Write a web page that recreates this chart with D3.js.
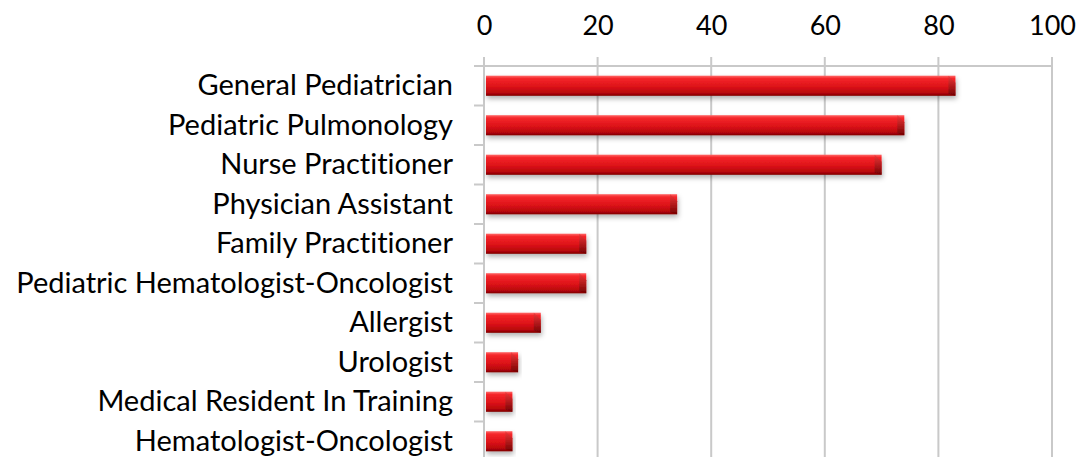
<!DOCTYPE html>
<html>
<head lang="en">
    <meta charset="UTF-8">
    <title></title>
    <style>
        body { margin: 0; background: #fff; }
        text { font-family: Lato, "Open Sans", sans-serif; fill: #000; font-variant-ligatures: none; }
    </style>
</head>
<body>
<div id="chart"></div>

<script src="https://d3js.org/d3.v7.min.js"></script>
<script>
    // データ
    var categories = [
        "General Pediatrician",
        "Pediatric Pulmonology",
        "Nurse Practitioner",
        "Physician Assistant",
        "Family Practitioner",
        "Pediatric Hematologist-Oncologist",
        "Allergist",
        "Urologist",
        "Medical Resident In Training",
        "Hematologist-Oncologist"
    ];
    var values = [83, 74, 70, 34, 18, 18, 10, 6, 5, 5];
    var xTicks = [0, 20, 40, 60, 80, 100];

    var W = 1079, H = 457;
    // window.top と被らないように plot* で
    var plotLeft = 484, plotRight = 1052, plotTop = 66, plotBottom = 461;

    var svg = d3.select("#chart").append("svg")
        .attr("width", W)
        .attr("height", H);

    var defs = svg.append("defs");

    // バーのグラデーション
    var grad = defs.append("linearGradient")
        .attr("id", "barGrad")
        .attr("x1", 0).attr("y1", 0).attr("x2", 0).attr("y2", 1);
    grad.append("stop").attr("offset", "0%").attr("stop-color", "#ff6a6a");
    grad.append("stop").attr("offset", "14%").attr("stop-color", "#f5262a");
    grad.append("stop").attr("offset", "55%").attr("stop-color", "#dc1218");
    grad.append("stop").attr("offset", "85%").attr("stop-color", "#b8070c");
    grad.append("stop").attr("offset", "100%").attr("stop-color", "#7e0000");

    var endGrad = defs.append("linearGradient")
        .attr("id", "endGrad")
        .attr("x1", 0).attr("y1", 0).attr("x2", 0).attr("y2", 1);
    endGrad.append("stop").attr("offset", "0%").attr("stop-color", "#e83a3a");
    endGrad.append("stop").attr("offset", "100%").attr("stop-color", "#6a0000");

    // 影
    var shadow = defs.append("filter")
        .attr("id", "shadow")
        .attr("x", "-10%").attr("y", "-30%")
        .attr("width", "120%").attr("height", "180%");
    shadow.append("feDropShadow")
        .attr("dx", 1).attr("dy", 3)
        .attr("stdDeviation", 2.5)
        .attr("flood-color", "#000")
        .attr("flood-opacity", 0.3);

    var x = d3.scaleLinear()
        .domain([0, 100])
        .range([plotLeft, plotRight]);

    var y = d3.scaleBand()
        .domain(categories)
        .range([plotTop, plotBottom])
        .paddingInner(0.49)
        .paddingOuter(0.245);

    // グリッド線
    svg.append("g")
        .selectAll("line")
        .data(xTicks)
        .enter().append("line")
        .attr("x1", function(d){ return x(d); })
        .attr("x2", function(d){ return x(d); })
        .attr("y1", plotTop - 9)
        .attr("y2", H)
        .attr("stroke", "#c9c9c9")
        .attr("stroke-width", 2);

    // 上の軸線
    svg.append("line")
        .attr("x1", plotLeft - 10).attr("x2", plotRight)
        .attr("y1", plotTop).attr("y2", plotTop)
        .attr("stroke", "#c9c9c9")
        .attr("stroke-width", 2);

    // カテゴリの区切り
    var step = y.step();
    svg.append("g")
        .selectAll("line")
        .data(categories)
        .enter().append("line")
        .attr("x1", plotLeft - 10).attr("x2", plotLeft)
        .attr("y1", function(d){ return y(d) - step * 0.245 + step; })
        .attr("y2", function(d){ return y(d) - step * 0.245 + step; })
        .attr("stroke", "#c9c9c9")
        .attr("stroke-width", 2);

    // 軸ラベル
    var xAxis = d3.axisTop(x)
        .tickValues(xTicks)
        .tickSize(0)
        .tickPadding(31);
    var gx = svg.append("g")
        .attr("transform", "translate(0," + plotTop + ")")
        .call(xAxis);
    gx.select(".domain").remove();
    gx.selectAll("text")
        .style("font-size", "27px")
        .style("font-family", "Lato, sans-serif")
        .attr("fill", "#000");

    var yAxis = d3.axisLeft(y)
        .tickSize(0)
        .tickPadding(31);
    var gy = svg.append("g")
        .attr("transform", "translate(" + plotLeft + ",0)")
        .call(yAxis);
    gy.select(".domain").remove();
    gy.selectAll("text")
        .style("font-size", "29px")
        .style("font-family", "Lato, sans-serif")
        .attr("fill", "#000");

    // バー
    var bars = svg.append("g")
        .selectAll("g")
        .data(values)
        .enter().append("g")
        .attr("filter", "url(#shadow)");

    bars.append("rect")
        .attr("x", x(0) + 2)
        .attr("y", function(d, i){ return y(categories[i]); })
        .attr("width", function(d){ return x(d) - x(0) - 2; })
        .attr("height", y.bandwidth())
        .attr("fill", "url(#barGrad)");

    // バーの端の面取り
    var bw = y.bandwidth();
    bars.append("path")
        .attr("d", function(d, i){
            var x1 = x(d), y0 = y(categories[i]), e = 7;
            return "M" + (x1 - e) + "," + y0 +
                "L" + x1 + "," + (y0 + e) +
                "L" + x1 + "," + (y0 + bw) +
                "L" + (x1 - e) + "," + (y0 + bw - 2) + "Z";
        })
        .attr("fill", "url(#endGrad)")
        .attr("opacity", 0.8);
</script>
</body>
</html>
